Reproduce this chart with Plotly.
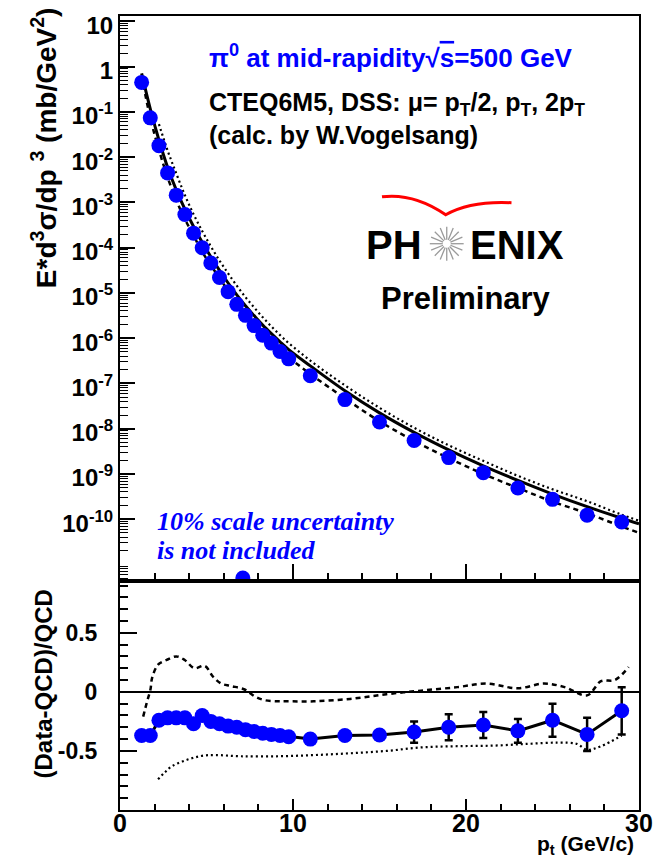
import math
import plotly.graph_objects as go

# ---------------- data ----------------
pt = [1.25, 1.75, 2.25, 2.75, 3.25, 3.75, 4.25, 4.75, 5.25, 5.75, 6.25, 6.75,
      7.25, 7.75, 8.25, 8.75, 9.25, 9.75, 11, 13, 15, 17, 19, 21, 23, 25, 27, 29]
xsec = [4.5e-1, 7.4e-2, 1.8e-2, 4.5e-3, 1.45e-3, 5.4e-4, 2.1e-4, 1.0e-4, 4.6e-5,
        2.2e-5, 1.07e-5, 5.6e-6, 3.2e-6, 1.9e-6, 1.17e-6, 7.8e-7, 5.1e-7, 3.5e-7,
        1.48e-7, 4.4e-8, 1.41e-8, 5.5e-9, 2.3e-9, 1.07e-9, 4.9e-10, 2.75e-10,
        1.23e-10, 8.7e-11]
ratio = [-0.37, -0.37, -0.24, -0.22, -0.22, -0.22, -0.27, -0.20, -0.25, -0.27,
         -0.29, -0.30, -0.32, -0.335, -0.35, -0.36, -0.37, -0.38, -0.40, -0.37,
         -0.365, -0.34, -0.30, -0.28, -0.33, -0.24, -0.36, -0.16]
ratio_err = [0.02, 0.02, 0.02, 0.02, 0.02, 0.02, 0.02, 0.02, 0.02, 0.02, 0.02,
             0.02, 0.02, 0.02, 0.02, 0.02, 0.02, 0.02, 0.03, 0.03, 0.04, 0.09,
             0.11, 0.11, 0.10, 0.14, 0.14, 0.20]
outlier_pt = [7.1]
outlier_xsec = [5.0e-12]

th_pt = [1.25, 1.75, 2.25, 2.75, 3.25, 3.75, 4.25, 4.75, 5.25, 5.75, 6.25, 6.75,
         7.25, 7.75, 8.25, 8.75, 9.25, 9.75, 11, 13, 15, 17, 19, 21, 23, 25, 27,
         29, 30]
qcd_pt = [0.71, 0.117, 0.024, 6.0e-3, 1.9e-3, 7.1e-4, 2.95e-4, 1.32e-4, 6.3e-5,
          3.16e-5, 1.66e-5, 9.1e-6, 5.2e-6, 3.16e-6, 1.95e-6, 1.26e-6, 8.3e-7,
          5.6e-7, 2.45e-7, 6.9e-8, 2.24e-8, 8.3e-9, 3.4e-9, 1.51e-9, 7.2e-10,
          3.6e-10, 1.9e-10, 1.05e-10, 7.9e-11]
qcd_2pt = [0.62, 0.074, 0.0145, 3.6e-3, 1.12e-3, 4.3e-4, 1.86e-4, 8.1e-5, 4.1e-5,
           2.14e-5, 1.12e-5, 6.2e-6, 3.5e-6, 2.2e-6, 1.35e-6, 8.7e-7, 5.8e-7,
           3.8e-7, 1.62e-7, 4.7e-8, 1.46e-8, 5.4e-9, 2.24e-9, 1.0e-9, 4.9e-10,
           2.45e-10, 1.35e-10, 6.9e-11, 5.0e-11]
th_pt_half = [2.25, 2.75, 3.25, 3.75, 4.25, 4.75, 5.25, 5.75, 6.25, 6.75, 7.25,
              7.75, 8.25, 8.75, 9.25, 9.75, 11, 13, 15, 17, 19, 21, 23, 25, 27,
              29, 30]
qcd_halfpt = [5.4e-2, 1.41e-2, 4.4e-3, 1.45e-3, 5.5e-4, 2.34e-4, 1.07e-4, 5.2e-5,
              2.7e-5, 1.45e-5, 8.1e-6, 4.8e-6, 2.9e-6, 1.82e-6, 1.17e-6, 7.8e-7,
              3.2e-7, 9.1e-8, 2.9e-8, 1.05e-8, 4.3e-9, 1.95e-9, 9.1e-10, 4.6e-10,
              2.5e-10, 1.26e-10, 9.3e-11]

dash_ratio_pt = [1.34, 1.55, 1.76, 1.86, 2.2, 2.7, 3.26, 3.74, 4.3, 4.9, 5.37,
                 5.85, 6.4, 7.2, 7.8, 8.35, 9.1, 9.7, 11.2, 13.3, 15.4, 17.4,
                 19.5, 21.2, 23.0, 24.5, 25.7, 27.0, 27.8, 28.6, 29.4]
dash_ratio = [-0.21, -0.09, 0.02, 0.12, 0.23, 0.27, 0.30, 0.27, 0.20, 0.22, 0.13,
              0.07, 0.05, 0.02, -0.04, -0.07, -0.08, -0.08, -0.08, -0.06, -0.02,
              0.01, 0.04, 0.07, 0.03, 0.07, 0.04, -0.03, 0.09, 0.10, 0.21]
dot_ratio_pt = [2.2, 2.6, 3.0, 3.6, 4.2, 4.8, 5.5, 7.0, 9.2, 11.25, 13.3, 15.4,
                17.45, 19.5, 21.6, 23.6, 25.3, 26.4, 27.0, 27.8, 29.0]
dot_ratio = [-0.74, -0.68, -0.63, -0.59, -0.56, -0.54, -0.535, -0.545, -0.545,
             -0.535, -0.52, -0.50, -0.47, -0.46, -0.455, -0.44, -0.43, -0.44,
             -0.49, -0.46, -0.37]

y_decades = [1, 0, -1, -2, -3, -4, -5, -6, -7, -8, -9, -10]
x_ticks = [0, 10, 20, 30]
r_ticks = [-0.5, 0, 0.5]

# ---------------- geometry ----------------
W, H = 665, 858
LM, RM, TM, BM = 120, 24, 15, 48
PW, PH = W - LM - RM, H - TM - BM
SPLIT = (H - BM - 580.5) / PH


def P(xp, yp):
    return (xp - LM) / PW, (H - BM - yp) / PH


BLUE = "#0000ff"
FONT = "Liberation Sans"
MS = 15

fig = go.Figure()

# ---- top panel ----
fig.add_trace(go.Scatter(x=th_pt_half, y=qcd_halfpt, mode="lines",
                         line=dict(color="black", width=2.2, dash="2px,3px", shape="spline"),
                         xaxis="x", yaxis="y", showlegend=False))
fig.add_trace(go.Scatter(x=th_pt, y=qcd_2pt, mode="lines",
                         line=dict(color="black", width=2.5, dash="5px,4px", shape="spline"),
                         xaxis="x", yaxis="y", showlegend=False))
fig.add_trace(go.Scatter(x=th_pt, y=qcd_pt, mode="lines",
                         line=dict(color="black", width=3, shape="spline"),
                         xaxis="x", yaxis="y", showlegend=False))
fig.add_trace(go.Scatter(x=pt, y=xsec, mode="markers",
                         marker=dict(color=BLUE, size=MS, symbol="circle"),
                         xaxis="x", yaxis="y", showlegend=False))
fig.add_trace(go.Scatter(x=outlier_pt, y=outlier_xsec, mode="markers",
                         marker=dict(color=BLUE, size=MS, symbol="circle"),
                         xaxis="x", yaxis="y", showlegend=False))

# ---- ratio panel ----
fig.add_trace(go.Scatter(x=dot_ratio_pt, y=dot_ratio, mode="lines",
                         line=dict(color="black", width=2.2, dash="2px,3px", shape="spline"),
                         xaxis="x2", yaxis="y2", showlegend=False))
fig.add_trace(go.Scatter(x=dash_ratio_pt, y=dash_ratio, mode="lines",
                         line=dict(color="black", width=2.5, dash="5px,4px", shape="spline"),
                         xaxis="x2", yaxis="y2", showlegend=False))
fig.add_trace(go.Scatter(x=pt, y=ratio, mode="lines",
                         line=dict(color="black", width=3),
                         error_y=dict(type="data", array=ratio_err, color="black",
                                      thickness=2.5, width=4),
                         xaxis="x2", yaxis="y2", showlegend=False))
fig.add_trace(go.Scatter(x=pt, y=ratio, mode="markers",
                         marker=dict(color=BLUE, size=MS, symbol="circle"),
                         xaxis="x2", yaxis="y2", showlegend=False))

tickfont = dict(family=FONT, size=24, color="black", weight="bold")
axcommon = dict(showline=True, linecolor="black", linewidth=2, mirror=True,
                showgrid=False, zeroline=False, ticks="inside", tickcolor="black",
                tickwidth=1.5)

minor_dec = [k * 10.0 ** e for e in range(-12, 2) for k in range(2, 10)]
minor_r = [round(-1.0 + 0.1 * i, 2) for i in range(0, 20)]

fig.update_layout(
    width=W, height=H, margin=dict(l=LM, r=RM, t=TM, b=BM),
    paper_bgcolor="white", plot_bgcolor="white",
    xaxis=dict(axcommon, domain=[0, 1], range=[0, 30], anchor="y",
               tickvals=x_ticks, showticklabels=False, ticklen=17,
               minor=dict(ticks="inside", dtick=2, tick0=0, ticklen=8,
                          tickcolor="black", tickwidth=1.5)),
    yaxis=dict(axcommon, type="log", domain=[SPLIT, 1], range=[-11.36, 1.12],
               anchor="x", tickvals=[10.0 ** d for d in y_decades],
               ticktext=["10" if d == 1 else "1" if d == 0 else "10<sup>%d</sup>" % d
                         for d in y_decades],
               ticklen=15, tickfont=tickfont, ticklabelstandoff=0,
               ticklabelshift=4,
               minor=dict(ticks="inside", tickvals=minor_dec, ticklen=8,
                          tickcolor="black", tickwidth=1.2)),
    xaxis2=dict(axcommon, domain=[0, 1], range=[0, 30], anchor="y2",
                tickvals=x_ticks, ticktext=[str(v) for v in x_ticks], ticklen=11,
                tickfont=dict(tickfont, size=25), ticklabelstandoff=-10,
                minor=dict(ticks="inside", dtick=2, tick0=0, ticklen=6,
                           tickcolor="black", tickwidth=1.5)),
    yaxis2=dict(axcommon, domain=[0, SPLIT], range=[-1.0, 0.94], anchor="x2",
                tickvals=r_ticks, ticktext=["-0.5", "0", "0.5"], ticklen=17,
                tickfont=dict(tickfont, size=23), ticklabelstandoff=16,
                zeroline=True, zerolinecolor="black", zerolinewidth=1.5,
                minor=dict(ticks="inside", tickvals=minor_r, ticklen=8,
                           tickcolor="black", tickwidth=1.5)),
)

ann = []


def text(xp, yp, s, size, color="black", xanchor="left", yanchor="middle",
         angle=0, family=FONT, weight="bold", style="normal"):
    x, y = P(xp, yp)
    ann.append(dict(x=x, y=y, xref="paper", yref="paper", text=s, showarrow=False,
                    xanchor=xanchor, yanchor=yanchor, textangle=angle,
                    font=dict(family=family, size=size, color=color, weight=weight,
                              style=style)))


text(44, 147, "E*d<sup>3</sup>σ/dp <sup>3</sup> (mb/GeV<sup>2</sup>)", 28,
     xanchor="center", angle=-90)
text(43, 684, "(Data-QCD)/QCD", 24, xanchor="center", angle=-90)
text(638, 845, "p<sub>t</sub> (GeV/c)", 21, xanchor="right")
text(207, 56, "π<sup>0</sup> at mid-rapidity√<span style='text-decoration:overline'>s</span>=500 GeV",
     26, color=BLUE)
text(207, 103, "CTEQ6M5, DSS: μ= p<sub>T</sub>/2, p<sub>T</sub>, 2p<sub>T</sub>", 25)
text(207, 134, "(calc. by W.Vogelsang)", 25)
text(425, 244, "PH", 40, xanchor="right")
text(469, 244, "ENIX", 40)
text(467, 298, "Preliminary", 31, xanchor="center")
text(155, 521, "10% scale uncertainty", 26, color=BLUE, family="Liberation Serif",
     style="italic")
text(155, 550, "is not included", 26, color=BLUE, family="Liberation Serif",
     style="italic")

shapes = []
# PHENIX star
cx, cy = 448, 243
for i in range(16):
    a = 2 * math.pi * i / 16
    x0, y0 = P(cx + 4 * math.cos(a), cy + 4 * math.sin(a))
    x1, y1 = P(cx + 17 * math.cos(a), cy + 17 * math.sin(a))
    shapes.append(dict(type="line", xref="paper", yref="paper", x0=x0, y0=y0,
                       x1=x1, y1=y1, line=dict(color="#9a9a9a", width=1.3)))
# red wing
pts = [(383, 196), (415, 192), (447, 214), (472, 200), (513, 202)]
pp = [P(a, b) for a, b in pts]
path = "M %f,%f Q %f,%f %f,%f Q %f,%f %f,%f" % (pp[0] + pp[1] + pp[2] + pp[3] + pp[4])
shapes.append(dict(type="path", xref="paper", yref="paper", path=path,
                   line=dict(color="#ff0000", width=3)))

fig.update_layout(annotations=ann, shapes=shapes)
fig.write_html("out.html")
